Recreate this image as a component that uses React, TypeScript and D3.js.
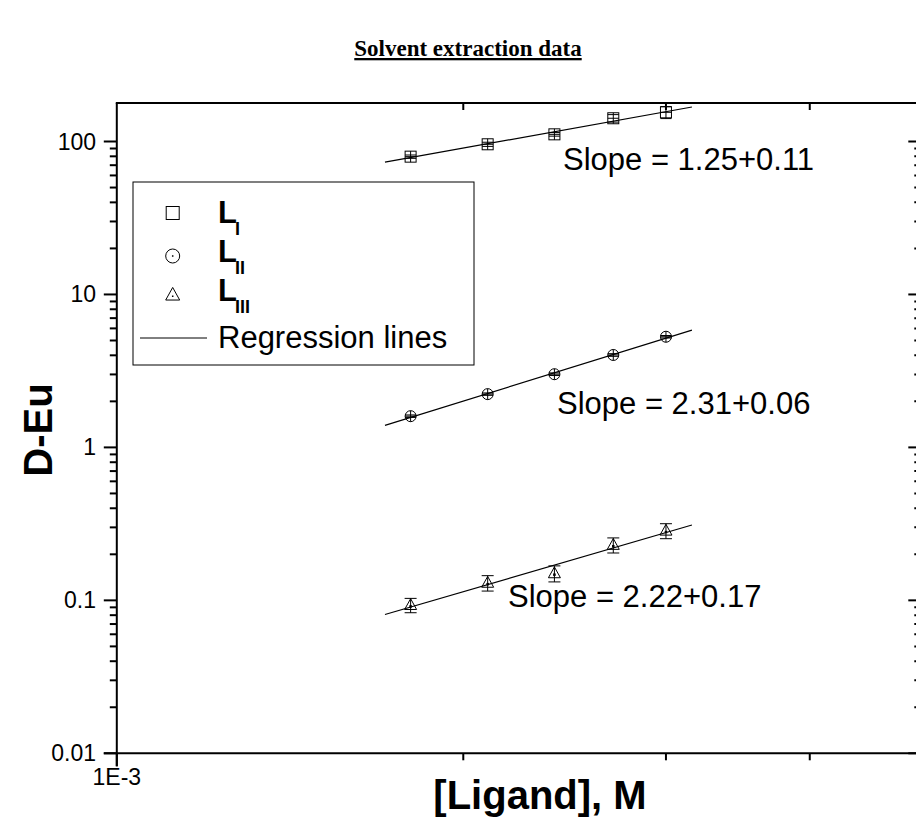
import React from 'react';
import * as d3 from 'd3';

// ---------- data ----------
const ligand = [1.8e-3, 2.1e-3, 2.4e-3, 2.7e-3, 3.0e-3];
const dL1 = [79.6, 95.9, 111.4, 141.9, 155.2];
const errL1 = [2, 3, 3, 8, 14];
const dL2 = [1.6, 2.23, 3.01, 4.02, 5.29];
const errL2 = [0.03, 0.04, 0.06, 0.08, 0.1];
const dL3 = [0.093, 0.13, 0.15, 0.23, 0.285];
const errL3 = [0.01, 0.015, 0.018, 0.026, 0.032];
const seriesNames = ['I', 'II', 'III'];
const slopeLabels = ['Slope = 1.25+0.11', 'Slope = 2.31+0.06', 'Slope = 2.22+0.17'];
const fitRange = [1.71e-3, 3.16e-3];
const yMajor = [0.01, 0.1, 1, 10, 100];
const yTickLabels = ['0.01', '0.1', '1', '10', '100'];
const xMajor = [1e-3];
const xTickLabels = ['1E-3'];
const xMinor = [2e-3, 3e-3, 4e-3];
const xDomain = [1e-3, 5e-3];
const yDomain = [0.01, 100];

// ---------- layout ----------
const W = 916, H = 820;
const L = 116.8, R = 921.3, T = 103, B = 753.3;
const Y100 = 141.5;
const SANS = 'Liberation Sans, Arial, sans-serif';
const SERIF = 'Liberation Serif, Times New Roman, serif';

const x = d3.scaleLog().domain(xDomain).range([L, R]);
const y = d3.scaleLog().domain(yDomain).range([B, Y100]);

const yMinor: number[] = [];
[0.01, 0.1, 1, 10].forEach((d) => {
  for (let k = 2; k <= 9; k++) yMinor.push(d * k);
});

function fit(xs: number[], ys: number[]) {
  const lx = xs.map(Math.log10), ly = ys.map(Math.log10);
  const mx = d3.mean(lx)!, my = d3.mean(ly)!;
  let sxy = 0, sxx = 0;
  lx.forEach((v, i) => { sxy += (v - mx) * (ly[i] - my); sxx += (v - mx) ** 2; });
  const b = sxy / sxx, a = my - b * mx;
  return (v: number) => Math.pow(10, a + b * Math.log10(v));
}

const series = [
  { vals: dL1, errs: errL1, shape: 'square' },
  { vals: dL2, errs: errL2, shape: 'circle' },
  { vals: dL3, errs: errL3, shape: 'triangle' },
];

const slopePos = [
  [563, 170],
  [557, 414],
  [508, 607],
];

function Symbol({ shape, cx, cy, s, dot }: any) {
  const h = s / 2;
  if (shape === 'square')
    return <rect x={cx - h} y={cy - h} width={s} height={s} fill="none" stroke="#000" strokeWidth={1} />;
  if (shape === 'circle')
    return (
      <g>
        <circle cx={cx} cy={cy} r={h} fill="none" stroke="#000" strokeWidth={1} />
        {dot && <rect x={cx - 0.75} y={cy - 0.75} width={1.5} height={1.5} fill="#000" />}
      </g>
    );
  const th = s * 0.9;
  return (
    <g>
      <path
        d={`M${cx},${cy - th * 0.6} L${cx + h},${cy + th * 0.4} L${cx - h},${cy + th * 0.4} Z`}
        fill="none"
        stroke="#000"
        strokeWidth={1}
      />
      {dot && <rect x={cx - 0.75} y={cy + 0.5} width={1.5} height={1.5} fill="#000" />}
    </g>
  );
}

export default function App() {
  const line = d3
    .line<[number, number]>()
    .x((d) => x(d[0]))
    .y((d) => y(d[1]));

  return (
    <svg
      width={W}
      height={H}
      viewBox={`0 0 ${W} ${H}`}
      style={{ position: 'absolute', left: 0, top: 0, background: '#fff' }}
    >
      <rect width={W} height={H} fill="#fff" />
      {/* title */}
      <text
        x={468}
        y={56}
        textAnchor="middle"
        fontFamily={SERIF}
        fontWeight="bold"
        fontSize={23}
        textDecoration="underline"
      >
        Solvent extraction data
      </text>

      {/* frame */}
      <g stroke="#000" strokeWidth={2} fill="none">
        <line x1={L} y1={T} x2={L} y2={B + 13} />
        <line x1={L - 13} y1={B} x2={R} y2={B} />
        <line x1={L - 1} y1={T} x2={R} y2={T} />
        <line x1={R} y1={T} x2={R} y2={B} />
      </g>

      {/* ticks */}
      <g stroke="#000" strokeWidth={2}>
        {yMajor.map((v) => (
          <g key={'ym' + v}>
            <line x1={L - 13} x2={L} y1={y(v)} y2={y(v)} />
            <line x1={R - 13} x2={R} y1={y(v)} y2={y(v)} />
          </g>
        ))}
        {yMinor.map((v) => (
          <g key={'yn' + v}>
            <line x1={L - 7} x2={L} y1={y(v)} y2={y(v)} />
            <line x1={R - 7} x2={R} y1={y(v)} y2={y(v)} />
          </g>
        ))}
        {xMajor.map((v) => (
          <line key={'xm' + v} x1={x(v)} x2={x(v)} y1={B} y2={B + 13} />
        ))}
        {xMinor.map((v) => (
          <g key={'xn' + v}>
            <line x1={x(v)} x2={x(v)} y1={B} y2={B + 7} />
            <line x1={x(v)} x2={x(v)} y1={T} y2={T + 7} />
          </g>
        ))}
      </g>
      <g fontFamily={SANS} fontSize={23} fill="#000">
        {yMajor.map((v, i) => (
          <text key={'yl' + v} x={96} y={y(v) + 8} textAnchor="end">
            {yTickLabels[i]}
          </text>
        ))}
        {xMajor.map((v, i) => (
          <text key={'xl' + v} x={x(v)} y={785} textAnchor="middle">
            {xTickLabels[i]}
          </text>
        ))}
      </g>

      {/* axis titles */}
      <text
        x={540}
        y={809}
        textAnchor="middle"
        fontFamily={SANS}
        fontWeight="bold"
        fontSize={40}
      >
        [Ligand], M
      </text>
      <text
        transform={`translate(52,430) rotate(-90)`}
        textAnchor="middle"
        fontFamily={SANS}
        fontWeight="bold"
        fontSize={40}
      >
        D-Eu
      </text>

      {/* regression lines */}
      {series.map((s, i) => {
        const f = fit(ligand, s.vals);
        const pts: [number, number][] = fitRange.map((v) => [v, f(v)]);
        return <path key={'fit' + i} d={line(pts) || ''} stroke="#000" strokeWidth={1.2} fill="none" />;
      })}

      {/* points with error bars */}
      {series.map((s, i) => (
        <g key={'s' + i}>
          {s.vals.map((v, j) => {
            const cx = x(ligand[j]);
            const cy = y(v);
            const y1 = y(v + s.errs[j]);
            const y2 = y(v - s.errs[j]);
            const sz = s.shape === 'triangle' ? 12 : 11;
            const h = sz / 2;
            const tri = s.shape === 'triangle';
            return (
              <g key={j} stroke="#000" strokeWidth={1} fill="none">
                <line x1={cx} x2={cx} y1={Math.min(y1, cy - (tri ? 0 : h))} y2={Math.max(y2, cy + (tri ? 0 : h))} />
                <line x1={cx - h} x2={cx + h} y1={y1} y2={y1} />
                <line x1={cx - h} x2={cx + h} y1={y2} y2={y2} />
                {!tri && <line x1={cx - h} x2={cx + h} y1={cy} y2={cy} />}
                <Symbol shape={s.shape} cx={cx} cy={cy} s={sz} dot={tri} />
              </g>
            );
          })}
        </g>
      ))}

      {/* slope annotations */}
      {slopeLabels.map((t, i) => (
        <text key={t} x={slopePos[i][0]} y={slopePos[i][1]} fontFamily={SANS} fontSize={31}>
          {t}
        </text>
      ))}

      {/* legend */}
      <rect x={133} y={182} width={341} height={183} fill="#fff" stroke="#000" strokeWidth={1} />
      {series.map((s, i) => {
        const sy = [213, 256, 295][i];
        const by = [223, 262, 301][i];
        return (
          <g key={'lg' + i}>
            <Symbol shape={s.shape} cx={172.7} cy={sy} s={s.shape === 'square' ? 13 : 14} dot={s.shape !== 'square'} />
            <text x={218} y={by} fontFamily={SANS} fontWeight="bold" fontSize={31}>
              L
              <tspan dx={-2} dy={12} fontSize={18}>
                {seriesNames[i]}
              </tspan>
            </text>
          </g>
        );
      })}
      <line x1={140} x2={207} y1={338} y2={338} stroke="#000" strokeWidth={1} />
      <text x={218} y={348} fontFamily={SANS} fontSize={31}>
        Regression lines
      </text>
    </svg>
  );
}
